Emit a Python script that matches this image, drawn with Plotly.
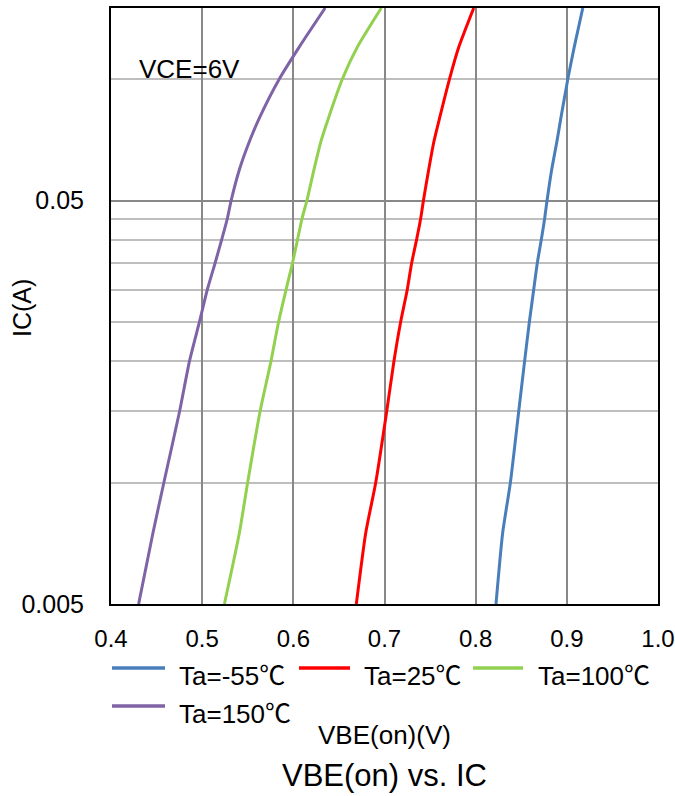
import numpy as np
import plotly.graph_objects as go

# Collector current levels (A) at which VBE(on) was read
ic = [0.005, 0.0075, 0.01, 0.015, 0.02, 0.025, 0.03, 0.035, 0.04, 0.045,
      0.05, 0.06, 0.07, 0.08, 0.1, 0.12, 0.15]

# VBE(on) (V) for each ambient temperature
vbe_m55 = [0.8223, 0.8296, 0.8381, 0.8472, 0.8537, 0.8589, 0.8636, 0.8676, 0.8720,
           0.8756, 0.8783, 0.8836, 0.8891, 0.8934, 0.9011, 0.9081, 0.9175]
vbe_25 = [0.6691, 0.6794, 0.6904, 0.7024, 0.7104, 0.7177, 0.7249, 0.7298, 0.7352,
          0.7396, 0.7427, 0.7487, 0.7542, 0.7604, 0.7713, 0.7815, 0.7979]
vbe_100 = [0.5244, 0.5408, 0.5499, 0.5635, 0.5755, 0.5838, 0.5919, 0.5991, 0.6046,
           0.6094, 0.6149, 0.6229, 0.6302, 0.6385, 0.6538, 0.6702, 0.6965]
vbe_150 = [0.4303, 0.4460, 0.4580, 0.4752, 0.4861, 0.4970, 0.5055, 0.5142, 0.5214,
           0.5275, 0.5318, 0.5412, 0.5518, 0.5627, 0.5846, 0.6064, 0.6349]

series_names = ["Ta=-55℃", "Ta=25℃", "Ta=100℃", "Ta=150℃"]
series_vbe = [vbe_m55, vbe_25, vbe_100, vbe_150]
series_colors = ["#4A7EBB", "#FF0000", "#92D050", "#7F63A6"]

x_ticks = [0.4, 0.5, 0.6, 0.7, 0.8, 0.9, 1.0]
y_major = [0.005, 0.05]
y_minor = [0.01, 0.015, 0.02, 0.025, 0.03, 0.035, 0.04, 0.045, 0.1, 0.15]

FONT = "Liberation Sans, Arial, Noto Sans CJK SC, sans-serif"

# plot-area geometry in pixels
W, H = 675, 796
ML, MR, MT, MB = 111, 17, 8, 192
PW, PH = W - ML - MR, H - MT - MB


def px_x(px):
    return (px - ML) / PW


def px_y(py):
    return (H - MB - py) / PH


fig = go.Figure()
for name, v, c in zip(series_names, series_vbe, series_colors):
    fig.add_trace(go.Scatter(x=v, y=ic, mode="lines", name=name,
                             line=dict(color=c, width=3, shape="spline", smoothing=0.6),
                             showlegend=False))

# legend: sample line + label, three entries on the first row
legend_rows = [(668, 676), (668, 676), (668, 676), (706, 714)]
legend_line_x = [(112, 165), (299, 350), (473, 523), (112, 165)]
legend_text_x = [177, 362, 536, 177]
shapes = []
annotations = []
for name, c, (ly, ty), (x0, x1), tx in zip(series_names, series_colors, legend_rows,
                                            legend_line_x, legend_text_x):
    shapes.append(dict(type="line", xref="paper", yref="paper",
                       x0=px_x(x0), x1=px_x(x1), y0=px_y(ly), y1=px_y(ly),
                       line=dict(color=c, width=3.5)))
    annotations.append(dict(xref="paper", yref="paper", x=px_x(tx), y=px_y(ty),
                            xanchor="left", yanchor="middle", showarrow=False,
                            text=name, font=dict(family=FONT, size=26, color="#000")))

annotations.append(dict(xref="x", yref="y", x=0.429, y=np.log10(0.106),
                        xanchor="left", yanchor="middle", showarrow=False,
                        text="VCE=6V", font=dict(family=FONT, size=26, color="#000")))
annotations.append(dict(xref="paper", yref="paper", x=px_x(22), y=px_y(308),
                        xanchor="center", yanchor="middle", showarrow=False,
                        textangle=-90, text="IC(A)",
                        font=dict(family=FONT, size=25, color="#000")))
annotations.append(dict(xref="paper", yref="paper", x=0.5, y=px_y(735),
                        xanchor="center", yanchor="middle", showarrow=False,
                        text="VBE(on)(V)",
                        font=dict(family=FONT, size=26, color="#000")))

fig.update_layout(
    width=W, height=H,
    margin=dict(l=ML, r=MR, t=MT, b=MB),
    paper_bgcolor="white", plot_bgcolor="white",
    font=dict(family=FONT, size=25, color="#000"),
    title=dict(text="VBE(on) vs. IC", x=0.5, xref="paper",
               y=1 - 775 / H, yref="container", yanchor="middle", xanchor="center",
               font=dict(family=FONT, size=31, color="#000")),
    shapes=shapes,
    annotations=annotations,
)

fig.update_xaxes(
    range=[0.4, 1.0], tickvals=x_ticks, tickformat=".1f", automargin=False,
    showgrid=True, gridcolor="#888888", gridwidth=2,
    showline=True, linecolor="#000", linewidth=2, mirror=True,
    ticks="", ticklabelstandoff=12, ticklabeloverflow="allow", zeroline=False,
    tickfont=dict(family=FONT, size=24, color="#000"),
)
fig.update_yaxes(
    type="log", range=[np.log10(0.005), np.log10(0.15)], automargin=False,
    tickvals=y_major, ticktext=["0.005", "0.05"],
    showgrid=True, gridcolor="#888888", gridwidth=2,
    minor=dict(tickvals=y_minor, showgrid=True, gridcolor="#BEBEBE", gridwidth=2, ticks=""),
    showline=True, linecolor="#000", linewidth=2, mirror=True,
    ticks="", ticklabelstandoff=20, zeroline=False,
    tickfont=dict(family=FONT, size=25, color="#000"),
)

fig.write_html("out.html")
